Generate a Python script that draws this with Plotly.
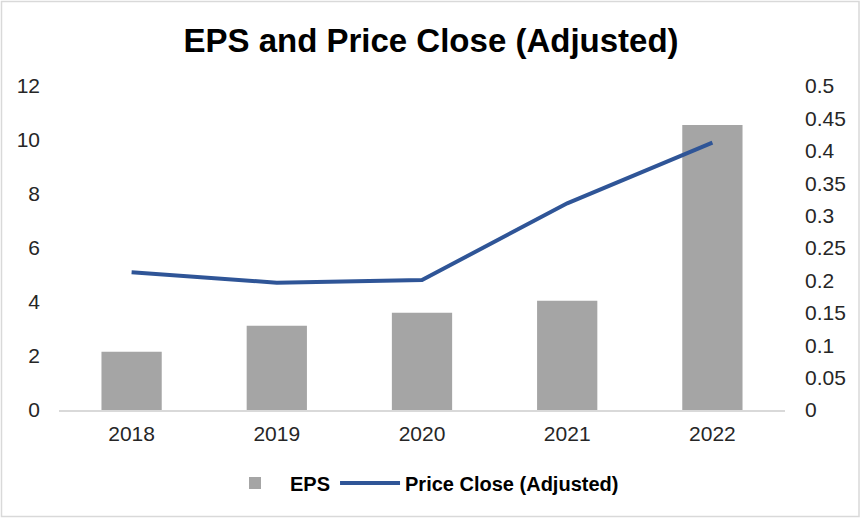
import plotly.graph_objects as go

years = ["2018", "2019", "2020", "2021", "2022"]
eps = [2.16, 3.12, 3.60, 4.05, 10.56]
price_close = [0.2125, 0.1965, 0.2006, 0.319, 0.4125]

left_ticks = [0, 2, 4, 6, 8, 10, 12]
right_ticks = [0, 0.05, 0.1, 0.15, 0.2, 0.25, 0.3, 0.35, 0.4, 0.45, 0.5]

W, H = 862, 518
ml, mr, mt, mb = 59, 77, 86, 108

fig = go.Figure()
fig.add_trace(go.Bar(
    x=years, y=eps, name="<b>EPS</b>",
    marker=dict(color="#A5A5A5", line=dict(width=0)),
    yaxis="y",
))
fig.add_trace(go.Scatter(
    x=years, y=price_close, name="<b>Price Close (Adjusted)</b>",
    mode="lines", line=dict(color="#2F5597", width=4),
    yaxis="y2",
))

pw = W - ml - mr
ph = H - mt - mb
fig.update_layout(
    width=W, height=H,
    margin=dict(l=ml, r=mr, t=mt, b=mb, pad=0),
    paper_bgcolor="white", plot_bgcolor="white",
    font=dict(family="Liberation Sans, Arial, sans-serif", size=21, color="#262626"),
    title=dict(text="<b>EPS and Price Close (Adjusted)</b>", x=0.5, xanchor="center",
               y=1 - 40 / H, yanchor="middle",
               font=dict(size=33, color="#000000")),
    bargap=0.585,
    showlegend=True,
    legend=dict(orientation="h", x=0.5, xanchor="center", y=-(483 - (H - mb)) / ph,
                yanchor="middle", font=dict(size=20, color="#000000"),
                traceorder="normal", itemwidth=60, bgcolor="rgba(0,0,0,0)"),
    xaxis=dict(type="category", showgrid=False, showline=True, linecolor="#D9D9D9",
               linewidth=1.5, ticks="", tickfont=dict(size=21), zeroline=False,
               ticklabelstandoff=4),
    yaxis=dict(range=[0, 12], tickvals=left_ticks, showgrid=False, zeroline=False,
               showline=False, ticks="", ticklabelstandoff=18, tickfont=dict(size=21)),
    yaxis2=dict(range=[0, 0.5], tickvals=right_ticks, overlaying="y", side="right",
                showgrid=False, zeroline=False, showline=False, ticks="",
                ticklabelstandoff=19, tickfont=dict(size=21)),
    shapes=[dict(type="rect", xref="paper", yref="paper",
                 x0=(1.5 - ml) / pw, x1=(W - 3 - ml) / pw,
                 y0=-(mb - 1.5) / ph, y1=(ph + mt - 1.5) / ph,
                 line=dict(color="#D9D9D9", width=1.5), fillcolor="rgba(0,0,0,0)",
                 layer="below")],
)

fig.write_html("out.html", config={"displayModeBar": False},
               post_script="document.body.style.margin='0';document.body.style.padding='0';")
